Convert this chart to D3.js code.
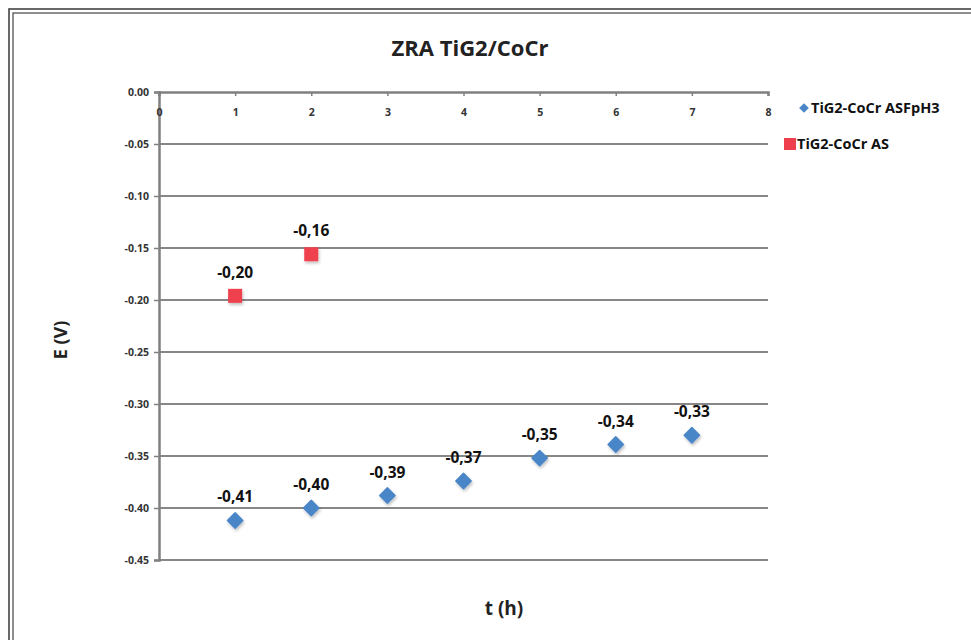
<!DOCTYPE html>
<html>
<head>
<meta charset="utf-8">
<script src="https://cdn.jsdelivr.net/npm/d3@7/dist/d3.min.js"></script>
<style>
  html, body { margin: 0; padding: 0; background: #fff; }
  svg { display: block; }
</style>
</head>
<body>
<svg id="chart" width="971" height="640"></svg>
<script>
// Time points (h) and measured potentials E (V)
const timeAsfph3 = [1, 2, 3, 4, 5, 6, 7];
const valuesAsfph3 = [-0.412, -0.400, -0.388, -0.374, -0.352, -0.339, -0.330];
const timeAs = [1, 2];
const valuesAs = [-0.196, -0.156];
const seriesNames = ["TiG2-CoCr ASFpH3", "TiG2-CoCr AS"];
const xTicks = [0, 1, 2, 3, 4, 5, 6, 7, 8];
const yTicks = [0, -0.05, -0.10, -0.15, -0.20, -0.25, -0.30, -0.35, -0.40, -0.45];

const svg = d3.select("#chart");
const font = "'Open Sans', 'Liberation Sans', sans-serif";
const blue = "#4a86c8";
const red = "#ee3f4e";

const margin = { left: 159, right: 768, top: 92, bottom: 560 };
const x = d3.scaleLinear().domain([0, 8]).range([margin.left, margin.right]);
const y = d3.scaleLinear().domain([-0.45, 0]).range([margin.bottom, margin.top]);

// Plain hyphen-minus for negative numbers
const fmtTick = d => d3.format(".2f")(d).replace("\u2212", "-");
const label = d => fmtTick(d).replace(".", ",");

// Chart frame (double line)
svg.append("rect").attr("x", 9).attr("y", 9).attr("width", 990).attr("height", 650)
  .attr("fill", "none").attr("stroke", "#444").attr("stroke-width", 1.6);
svg.append("rect").attr("x", 13).attr("y", 13).attr("width", 990).attr("height", 650)
  .attr("fill", "none").attr("stroke", "#444").attr("stroke-width", 1.2);

// Shadow for markers
const defs = svg.append("defs");
const f = defs.append("filter").attr("id", "shadow").attr("x", "-50%").attr("y", "-50%")
  .attr("width", "200%").attr("height", "200%");
f.append("feDropShadow").attr("dx", 1).attr("dy", 2).attr("stdDeviation", 1.5)
  .attr("flood-color", "#000").attr("flood-opacity", 0.25);

// Horizontal gridlines
svg.append("g").selectAll("line").data(yTicks.filter(d => d !== 0)).join("line")
  .attr("x1", margin.left).attr("x2", margin.right)
  .attr("y1", d => y(d)).attr("y2", d => y(d))
  .attr("stroke", "#878787").attr("stroke-width", 2);

// Y axis (left)
const yAxis = d3.axisLeft(y).tickValues(yTicks).tickSize(5).tickPadding(5)
  .tickFormat(fmtTick);
const gy = svg.append("g").attr("transform", `translate(${margin.left},0)`).call(yAxis);
gy.select(".domain").attr("stroke", "#808080").attr("stroke-width", 2.5);
gy.selectAll(".tick line").attr("stroke", "#808080").attr("stroke-width", 1.5);
gy.selectAll(".tick text").attr("font-family", font).attr("font-size", 10.5)
  .attr("font-weight", "bold").attr("fill", "#333");

// X axis (drawn at E = 0, top of plot)
const xAxis = d3.axisBottom(x).tickValues(xTicks).tickSize(4).tickPadding(13)
  .tickFormat(d3.format("d"));
const gx = svg.append("g").attr("transform", `translate(0,${margin.top})`).call(xAxis);
gx.select(".domain").attr("stroke", "#808080").attr("stroke-width", 2.5);
gx.selectAll(".tick line").attr("stroke", "#808080").attr("stroke-width", 1.5);
gx.selectAll(".tick text").attr("font-family", font).attr("font-size", 10.5)
  .attr("font-weight", "bold").attr("fill", "#333");

// Series ASFpH3: diamonds
const dataA = timeAsfph3.map((t, i) => ({ t, v: valuesAsfph3[i] }));
svg.append("g").selectAll("path").data(dataA).join("path")
  .attr("d", d3.symbol(d3.symbolDiamond2, 150)())
  .attr("transform", d => `translate(${x(d.t)},${y(d.v)})`)
  .attr("fill", blue).attr("stroke", blue).attr("stroke-width", 1.5)
  .attr("stroke-linejoin", "round").attr("filter", "url(#shadow)");
svg.append("g").selectAll("text").data(dataA).join("text")
  .attr("x", d => x(d.t)).attr("y", d => y(d.v) - 18)
  .attr("text-anchor", "middle").attr("font-family", font).attr("font-size", 15.5)
  .attr("font-weight", "bold").attr("fill", "#111").text(d => label(d.v));

// Series AS: squares
const dataB = timeAs.map((t, i) => ({ t, v: valuesAs[i] }));
svg.append("g").selectAll("rect").data(dataB).join("rect")
  .attr("x", d => x(d.t) - 7).attr("y", d => y(d.v) - 7)
  .attr("width", 14).attr("height", 14)
  .attr("fill", red).attr("filter", "url(#shadow)");
svg.append("g").selectAll("text").data(dataB).join("text")
  .attr("x", d => x(d.t)).attr("y", d => y(d.v) - 18)
  .attr("text-anchor", "middle").attr("font-family", font).attr("font-size", 15.5)
  .attr("font-weight", "bold").attr("fill", "#111").text(d => label(d.v));

// Title
svg.append("text").attr("x", 470).attr("y", 56).attr("text-anchor", "middle")
  .attr("font-family", font).attr("font-size", 22).attr("font-weight", "bold")
  .attr("fill", "#222").text("ZRA TiG2/CoCr");

// Axis titles
svg.append("text").attr("x", 504).attr("y", 615).attr("text-anchor", "middle")
  .attr("font-family", font).attr("font-size", 19).attr("font-weight", "bold")
  .attr("fill", "#222").text("t (h)");
svg.append("text").attr("transform", "translate(67,340) rotate(-90)")
  .attr("text-anchor", "middle").attr("font-family", font).attr("font-size", 18)
  .attr("font-weight", "bold").attr("fill", "#222").text("E (V)");

// Legend
const legend = svg.append("g");
legend.append("path").attr("d", d3.symbol(d3.symbolDiamond2, 60)())
  .attr("transform", "translate(804,108)").attr("fill", blue);
legend.append("text").attr("x", 811).attr("y", 113).attr("font-family", font)
  .attr("font-size", 14.5).attr("font-weight", "bold").attr("fill", "#111").text(seriesNames[0]);
legend.append("rect").attr("x", 784).attr("y", 138).attr("width", 12).attr("height", 12)
  .attr("fill", red);
legend.append("text").attr("x", 797).attr("y", 149).attr("font-family", font)
  .attr("font-size", 14.5).attr("font-weight", "bold").attr("fill", "#111").text(seriesNames[1]);
</script>
</body>
</html>
